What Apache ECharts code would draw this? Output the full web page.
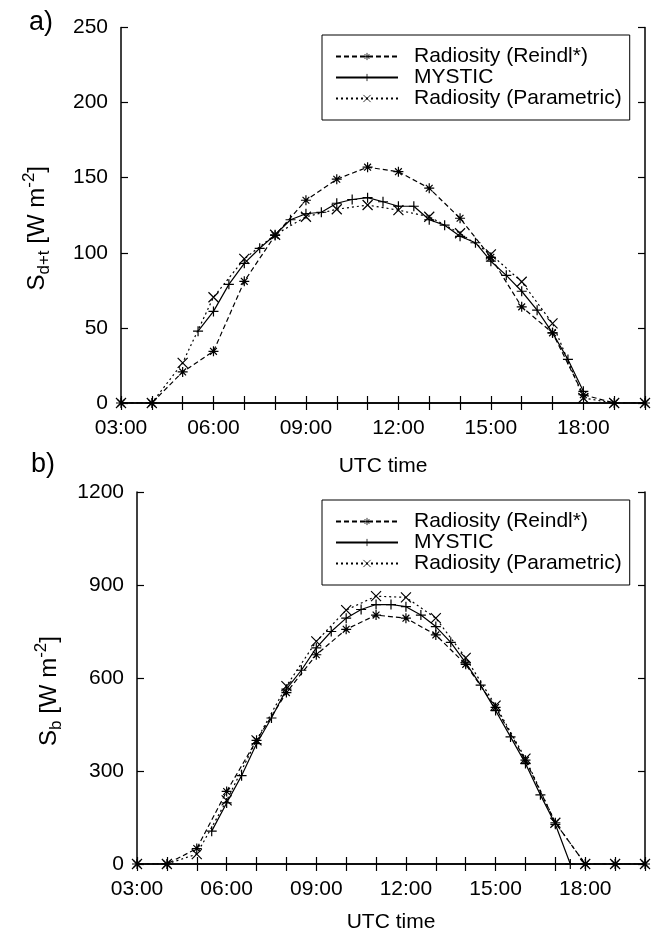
<!DOCTYPE html>
<html>
<head>
<meta charset="utf-8">
<script src="https://cdn.jsdelivr.net/npm/echarts@6/dist/echarts.min.js"></script>
<style>html,body{margin:0;padding:0;background:#fff}#c{width:652px;height:934px}</style>
</head>
<body>
<div id="c"></div>
<script>
// ---- data ----
const hoursHourly = [3,4,5,6,7,8,9,10,11,12,13,14,15,16,17,18,19,20];
const hoursMysticA = [5.5,6,6.5,7,7.5,8,8.5,9,9.5,10,10.5,11,11.5,12,12.5,13,13.5,14,14.5,15,15.5,16,16.5,17,17.5,18];
const hoursMysticB = [5.5,6,6.5,7,7.5,8,8.5,9,9.5,10,10.5,11,11.5,12,12.5,13,13.5,14,14.5,15,15.5,16,16.5,17,17.5];

const reindlA = [0,0,20.7,34.4,81,111.6,135,149,157,154,143,123,97,64,46.7,5.5,0,0];
const mysticA = [47.8,61,79,93,103,112,122,126,127,133,135.5,136.7,134,131,131,122,118.4,111,106.7,94.4,85,74.4,61.8,46.7,29,7.8];
const paramA  = [0,0,26.7,70.4,96,112,124,129,131.8,128.4,124,113,99,80.7,53,3.3,0,0];

const reindlB = [0,0,50,234,399,553,675,757,803,793,739,644,505,335,133,0,0,0];
const mysticB = [106,197,285,388,471,564,625,697,750,793,821,837,837,830,803,766,715,649,577,495,410,324,223,128,0];
const paramB  = [0,0,32,205,399,574,718,819,864,860,793,665,511,340,133,0,0,0];

const seriesNames = ['Radiosity (Reindl*)','MYSTIC','Radiosity (Parametric)'];
const xLabelHours = [3,6,9,12,15,18];

// ---- styling helpers ----
const FONT = 'Liberation Sans, Arial, sans-serif';
const SYM_AST = 'path://M5,0L5,10M0,5L10,5M1.6,1.6L8.4,8.4M1.6,8.4L8.4,1.6';
const SYM_PLUS = 'path://M5,0L5,10M0,5L10,5';
const SYM_X = 'path://M0,0L10,10M0,10L10,0';

function pairs(xs, ys){ return xs.map((x,i)=>[x, ys[i]]); }
function fmtHour(v){ return xLabelHours.indexOf(v) >= 0 ? (v<10?'0':'')+v+':00' : ''; }

function mkSeries(name, data, sym, dash, xi, yi){
  return {
    type:'line', name, data, xAxisIndex:xi, yAxisIndex:yi,
    symbol:sym, symbolSize:10, showSymbol:true, animation:false,
    lineStyle:{color:'#000', width:1.2, type:dash},
    itemStyle:{color:'#000', borderColor:'#000', borderWidth:1.2},
    emphasis:{disabled:true}
  };
}

function xAxes(gi, nameGap){
  const base = {type:'value', gridIndex:gi, min:3, max:20, interval:1,
    axisLine:{lineStyle:{color:'#000', width:1.5}},
    axisTick:{inside:true, length:7, lineStyle:{color:'#000', width:1.2}},
    splitLine:{show:false}};
  return [
    Object.assign({}, base, {position:'bottom',
      axisLabel:{formatter:fmtHour, color:'#000', fontSize:21, fontFamily:FONT, margin:15, showMaxLabel:true},
      name:'UTC time', nameLocation:'middle', nameGap:nameGap,
      nameTextStyle:{color:'#000', fontSize:21, fontFamily:FONT}}),
    Object.assign({}, base, {position:'top', axisLabel:{show:false}})
  ];
}
function yAxes(gi, max, interval, name, nameGap){
  const base = {type:'value', gridIndex:gi, min:0, max:max, interval:interval,
    axisLine:{show:true, lineStyle:{color:'#000', width:1.5}},
    axisTick:{show:true, inside:true, length:7, lineStyle:{color:'#000', width:1.2}},
    splitLine:{show:false}};
  return [
    Object.assign({}, base, {position:'left',
      axisLabel:{color:'#000', fontSize:21, fontFamily:FONT, margin:13, formatter:(v)=>String(v)},
      name:name, nameLocation:'middle', nameRotate:90, nameGap:nameGap,
      nameTextStyle:{color:'#000', fontFamily:FONT, padding:[0,26,0,0], rich:{
        s:{fontSize:24, fontFamily:FONT, color:'#000', lineHeight:32, verticalAlign:'middle'},
        sub:{fontSize:17, fontFamily:FONT, color:'#000', lineHeight:32, verticalAlign:'bottom'},
        sup:{fontSize:17, fontFamily:FONT, color:'#000', lineHeight:32, verticalAlign:'top'}
      }}}),
    Object.assign({}, base, {position:'right', axisLabel:{show:false}})
  ];
}

const nameA = '{s|S}{sub|d+t}{s| [W m}{sup|-2}{s|]}';
const nameB = '{s|S}{sub|b}{s| [W m}{sup|-2}{s|]}';

function mkLegend(left, top){
  return {
    left, top, orient:'vertical', itemWidth:62, itemHeight:9, itemGap:0,
    padding:[11,8,11,13], borderColor:'#000', borderWidth:1, backgroundColor:'#fff',
    selectedMode:false,
    itemStyle:{borderWidth:0.8},
    textStyle:{color:'#000', fontSize:21, fontFamily:FONT, lineHeight:20, padding:[0,0,0,11]},
    data:seriesNames
  };
}

const xa = xAxes(0, 53), xb = xAxes(1, 48);
const ya = yAxes(0, 250, 50, nameA, 68), yb = yAxes(1, 1200, 300, nameB, 72);

const option = {
  backgroundColor:'#fff',
  animation:false,
  title:[
    {text:'a)', left:24, top:4, textStyle:{fontSize:27, fontWeight:'normal', color:'#000', fontFamily:FONT}},
    {text:'b)', left:26, top:446, textStyle:{fontSize:27, fontWeight:'normal', color:'#000', fontFamily:FONT}}
  ],
  grid:[
    {left:121, top:27.5, width:524, height:375.5},
    {left:137, top:492, width:508, height:376}
  ],
  legend:[ mkLegend(322, 35), mkLegend(322, 500) ],
  xAxis:[xa[0], xa[1], xb[0], xb[1]],
  yAxis:[ya[0], ya[1], yb[0], yb[1]],
  series:[
    mkSeries(seriesNames[0], pairs(hoursHourly, reindlA), SYM_AST, [5,3], 0, 0),
    mkSeries(seriesNames[1], pairs(hoursMysticA, mysticA), SYM_PLUS, 'solid', 0, 0),
    mkSeries(seriesNames[2], pairs(hoursHourly, paramA), SYM_X, [2,3], 0, 0),
    mkSeries(seriesNames[0], pairs(hoursHourly, reindlB), SYM_AST, [5,3], 2, 2),
    mkSeries(seriesNames[1], pairs(hoursMysticB, mysticB), SYM_PLUS, 'solid', 2, 2),
    mkSeries(seriesNames[2], pairs(hoursHourly, paramB), SYM_X, [2,3], 2, 2)
  ]
};
const chart = echarts.init(document.getElementById('c'), null, {renderer:'canvas'});
chart.setOption(option);
</script>
</body>
</html>
